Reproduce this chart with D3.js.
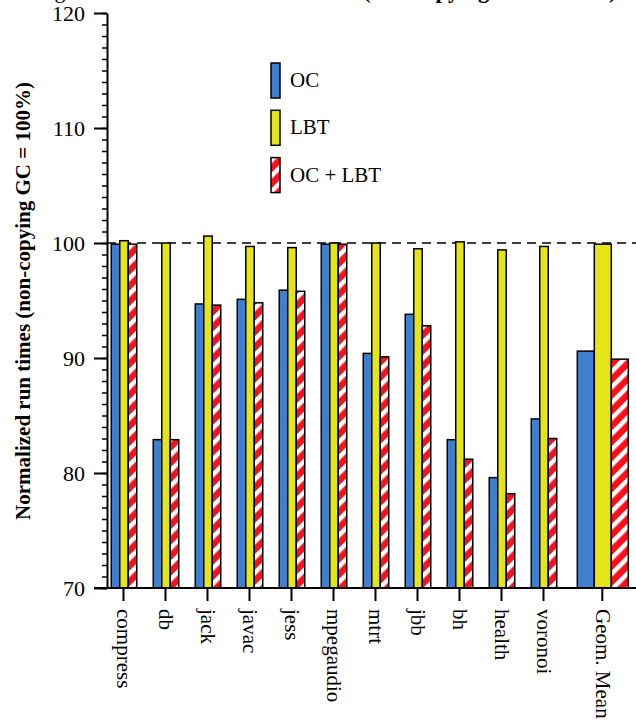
<!DOCTYPE html>
<html>
<head>
<meta charset="utf-8">
<script src="https://cdn.jsdelivr.net/npm/d3@7"></script>
<style>
  html, body { margin: 0; padding: 0; background: #fff; }
  svg, svg text { font-family: "Liberation Serif", "Times New Roman", serif; }
</style>
</head>
<body>
<div id="chart"></div>
<script>
// benchmarks, last one is the geometric mean
const categories = ['compress', 'db', 'jack', 'javac', 'jess', 'mpegaudio', 'mtrt', 'jbb', 'bh', 'health', 'voronoi', 'Geom. Mean'];
const seriesNames = ['OC', 'LBT', 'OC + LBT'];
const ocValues = [99.9, 82.9, 94.7, 95.1, 95.9, 99.9, 90.4, 93.8, 82.9, 79.6, 84.7, 90.6];
const lbtValues = [100.2, 100.0, 100.6, 99.7, 99.6, 100.0, 100.0, 99.5, 100.1, 99.4, 99.7, 99.9];
const bothValues = [99.9, 82.9, 94.6, 94.8, 95.8, 99.9, 90.1, 92.8, 81.2, 78.2, 83.0, 89.9];
const yTicks = [70, 80, 90, 100, 110, 120];
const baseline = 100;

const width = 636, height = 726;
const colors = ['#3f7fcf', '#e4e417', 'url(#stripes)'];

const svg = d3.select('#chart')
  .append('svg')
  .attr('width', width)
  .attr('height', height);

// red / white diagonal hatch for OC + LBT
const pattern = svg.append('defs')
  .append('pattern')
  .attr('id', 'stripes')
  .attr('patternUnits', 'userSpaceOnUse')
  .attr('width', 11)
  .attr('height', 11)
  .attr('patternTransform', 'rotate(45)');
pattern.append('rect').attr('width', 11).attr('height', 11).attr('fill', '#ff0f1c');
pattern.append('rect').attr('width', 4.5).attr('height', 11).attr('fill', '#fff');

const axisX = 107;
const y = d3.scaleLinear().domain([70, 120]).range([588, 13]);

// slot index -> x, geom mean sits a bit apart from the others
const x = d3.scaleLinear().domain([0, 10]).range([123.5, 543.5]);
const slot = (i) => (i === categories.length - 1 ? i + 0.4 : i);
const barW = (i) => (i === categories.length - 1 ? 17 : 8.5);

// dashed reference line at 100%
svg.append('line')
  .attr('x1', axisX).attr('x2', width)
  .attr('y1', y(baseline)).attr('y2', y(baseline))
  .attr('stroke', '#000')
  .attr('stroke-width', 1.5)
  .attr('stroke-dasharray', '9,6');

// bars
const allSeries = [ocValues, lbtValues, bothValues];
allSeries.forEach((vals, k) => {
  svg.append('g')
    .selectAll('rect')
    .data(vals)
    .enter()
    .append('rect')
    .attr('x', (d, i) => x(slot(i)) + (k - 1.5) * barW(i) + 0.5)
    .attr('y', (d) => y(d))
    .attr('width', (d, i) => barW(i))
    .attr('height', (d) => y(70) - y(d))
    .attr('fill', colors[k])
    .attr('stroke', '#000')
    .attr('stroke-width', 1.5);
});

// y axis: minor then major ticks
svg.append('g')
  .attr('transform', `translate(${axisX},0)`)
  .call(d3.axisLeft(y).tickValues(d3.range(70, 121, 1)).tickSize(5).tickFormat(''))
  .call((g) => g.select('.domain').remove())
  .call((g) => g.selectAll('line').attr('stroke-width', 1.5));

const yAxis = svg.append('g')
  .attr('transform', `translate(${axisX},0)`)
  .call(d3.axisLeft(y).tickValues(yTicks).tickSize(13).tickSizeOuter(0).tickPadding(9))
  .attr('font-family', null)
  .attr('font-size', 22);
yAxis.select('.domain').attr('stroke-width', 2);
yAxis.selectAll('line').attr('stroke-width', 2);
yAxis.selectAll('text').attr('fill', '#000');

// x axis
svg.append('line')
  .attr('x1', 94).attr('x2', width)
  .attr('y1', y(70)).attr('y2', y(70))
  .attr('stroke', '#000')
  .attr('stroke-width', 2);

const xTicks = svg.append('g')
  .selectAll('g')
  .data(categories)
  .enter()
  .append('g')
  .attr('transform', (d, i) => `translate(${x(slot(i))},${y(70)})`);
xTicks.append('line')
  .attr('y2', 13)
  .attr('stroke', '#000')
  .attr('stroke-width', 2);
xTicks.append('text')
  .attr('transform', 'translate(0,21) rotate(90)')
  .attr('dy', '0.3em')
  .attr('text-anchor', 'start')
  .attr('font-size', 21)
  .text((d) => d);

// y axis title
svg.append('text')
  .attr('transform', `translate(30,${(80 + 522) / 2}) rotate(-90)`)
  .attr('text-anchor', 'middle')
  .attr('font-size', 21)
  .attr('font-weight', 'bold')
  .text('Normalized run times (non-copying GC = 100%)');

// chart title, mostly cut off by the top edge
svg.append('text')
  .attr('x', 24).attr('y', -2)
  .attr('font-size', 22)
  .text('Program run times');
svg.append('text')
  .attr('x', 363).attr('y', -2)
  .attr('font-size', 22.5)
  .attr('font-weight', 'bold')
  .text('(non-copying GC = 100%)');

// legend
const legend = svg.append('g')
  .selectAll('g')
  .data(seriesNames)
  .enter()
  .append('g')
  .attr('transform', (d, i) => `translate(271,${63 + i * 47.3})`);
legend.append('rect')
  .attr('width', 9)
  .attr('height', 35)
  .attr('fill', (d, i) => colors[i])
  .attr('stroke', '#000')
  .attr('stroke-width', 1.5);
legend.append('text')
  .attr('x', 19)
  .attr('y', 24)
  .attr('font-size', 21)
  .text((d) => d);
</script>
</body>
</html>
